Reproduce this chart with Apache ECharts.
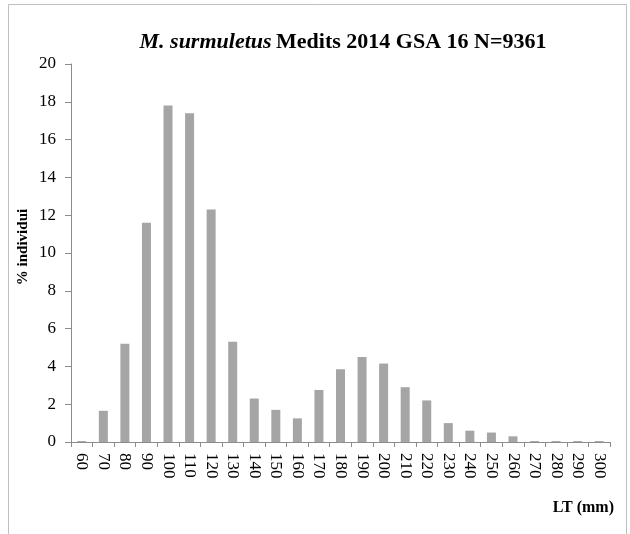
<!DOCTYPE html>
<html>
<head>
<meta charset="utf-8">
<script src="https://cdn.jsdelivr.net/npm/echarts@6/dist/echarts.min.js"></script>
<style>
  html, body { margin: 0; padding: 0; background: #fff; }
  #chart { width: 630px; height: 534px; }
</style>
</head>
<body>
<div id="chart"></div>
<script>
// length classes (mm)
const lengths = ['60', '70', '80', '90', '100', '110', '120', '130', '140', '150', '160', '170', '180',
  '190', '200', '210', '220', '230', '240', '250', '260', '270', '280', '290', '300'];
// % of individuals per class
const percent = [0.05, 1.65, 5.2, 11.6, 17.8, 17.4, 12.3, 5.3, 2.3, 1.7, 1.25, 2.75, 3.85,
  4.5, 4.15, 2.9, 2.2, 1.0, 0.6, 0.5, 0.3, 0.05, 0.05, 0.05, 0.05];

const serif = '"Liberation Serif", "Times New Roman", serif';
const chart = echarts.init(document.getElementById('chart'), null, { renderer: 'canvas' });

chart.setOption({
  animation: false,
  backgroundColor: '#fff',
  textStyle: { fontFamily: serif, color: '#000' },
  title: {
    text: '{i|M. surmuletus} {b|Medits 2014 GSA 16 N=9361}',
    left: 338,
    textAlign: 'center',
    top: 26,
    textStyle: {
      rich: {
        i: { fontFamily: serif, fontSize: 22, fontWeight: 'bold', fontStyle: 'italic', color: '#000' },
        b: { fontFamily: serif, fontSize: 22, fontWeight: 'bold', color: '#000' }
      }
    }
  },
  grid: { left: 71, right: 20, top: 64, height: 378 },
  xAxis: {
    type: 'category',
    data: lengths,
    boundaryGap: true,
    axisLine: { lineStyle: { color: '#8c8c8c' } },
    axisTick: { show: true, length: 5, alignWithLabel: false, lineStyle: { color: '#8c8c8c' } },
    axisLabel: { rotate: -90, fontSize: 17, color: '#000', fontFamily: serif, margin: 11, interval: 0 }
  },
  yAxis: {
    type: 'value',
    min: 0,
    max: 20,
    interval: 2,
    splitLine: { show: false },
    axisLine: { show: true, lineStyle: { color: '#8c8c8c' } },
    axisTick: { show: true, length: 6, lineStyle: { color: '#8c8c8c' } },
    axisLabel: { fontSize: 17, color: '#000', fontFamily: serif, margin: 15 }
  },
  series: [{
    type: 'bar',
    data: percent,
    barWidth: 9,
    itemStyle: { color: '#a5a5a5' }
  }],
  graphic: [
    {
      type: 'rect',
      shape: { x: 8.5, y: 4.5, width: 618, height: 540 },
      style: { fill: null, stroke: '#bfbfbf', lineWidth: 1 },
      silent: true
    },
    {
      type: 'text',
      x: 23,
      y: 247,
      rotation: Math.PI / 2,
      style: {
        text: '% individui', font: 'bold 15px ' + serif, fill: '#000',
        align: 'center', verticalAlign: 'middle'
      }
    },
    {
      type: 'text',
      right: 16,
      top: 500,
      style: { text: 'LT (mm)', font: 'bold 16px ' + serif, fill: '#000' }
    }
  ]
});
</script>
</body>
</html>
